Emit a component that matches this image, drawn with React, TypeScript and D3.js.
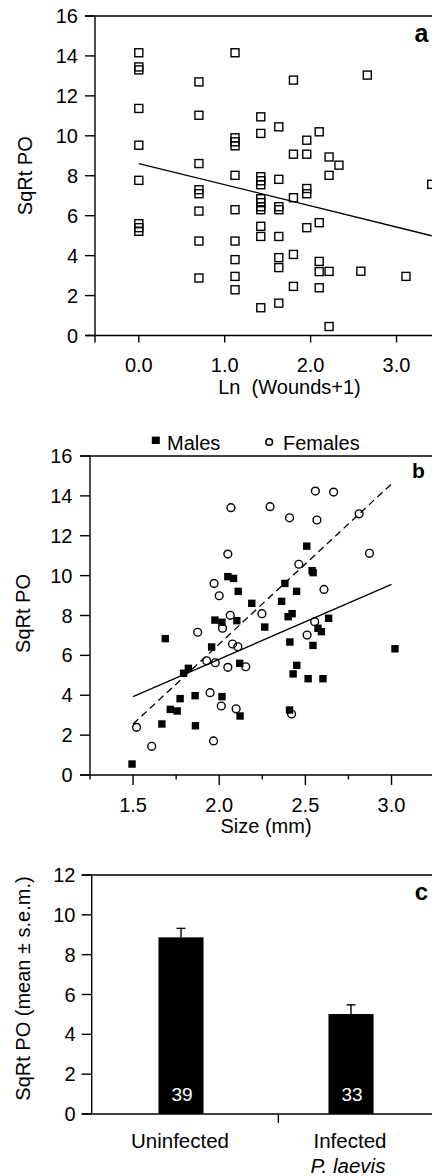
import React from 'react';
import * as d3 from 'd3';

const FONT = '"Liberation Sans", Arial, Helvetica, sans-serif';

// ---- panel a : PO vs Ln(wounds+1)
const lnWounds = [
  0, 0, 0, 0, 0, 0, 0, 0, 0,
  0.7, 0.7, 0.7, 0.7, 0.7, 0.7, 0.7, 0.7,
  1.12, 1.12, 1.12, 1.12, 1.12, 1.12, 1.12, 1.12, 1.12, 1.12,
  1.42, 1.42, 1.42, 1.42, 1.42, 1.42, 1.42, 1.42, 1.42, 1.42, 1.42, 1.42,
  1.63, 1.63, 1.63, 1.63, 1.63, 1.63, 1.63, 1.63,
  1.8, 1.8, 1.8, 1.8, 1.8,
  1.955, 1.955, 1.955, 1.955, 1.955,
  2.1, 2.1, 2.1, 2.1, 2.1,
  2.215, 2.215, 2.215, 2.215,
  2.33, 2.585, 2.66, 3.11, 3.41,
];
const poA = [
  14.16, 13.45, 13.3, 11.37, 9.53, 7.77, 5.6, 5.4, 5.22,
  12.7, 11.03, 8.61, 7.3, 7.1, 6.23, 4.73, 2.88,
  14.16, 9.9, 9.7, 9.5, 8.02, 6.3, 4.73, 3.8, 2.96, 2.29,
  10.95, 10.12, 7.95, 7.75, 7.55, 6.85, 6.65, 6.45, 6.3, 5.47, 4.96, 1.39,
  10.45, 7.82, 6.45, 6.3, 4.96, 3.9, 3.4, 1.62,
  12.79, 9.08, 6.9, 4.06, 2.46,
  9.78, 9.08, 7.36, 7.1, 5.4,
  10.2, 5.65, 3.71, 3.2, 2.39,
  8.94, 8.02, 3.21, 0.45,
  8.53, 3.22, 13.04, 2.96, 7.57,
];
const fitA = { intercept: 8.61, slope: -1.06, from: 0, to: 3.41 };
const lnTicks = [0, 1, 2, 3];
const poTicks16 = [0, 2, 4, 6, 8, 10, 12, 14, 16];

// ---- panel b : PO vs size, by sex
const maleSize = [
  1.687, 2.508, 2.539, 2.545, 2.381, 2.05, 2.083, 2.11, 2.189, 2.449,
  2.362, 2.423, 2.4, 1.975, 2.016, 2.102, 2.264, 2.635, 2.573, 2.593,
  2.41, 2.544, 1.956, 3.02, 2.119, 2.45, 1.821, 1.494, 1.667, 1.716,
  1.756, 1.773, 1.793, 1.86, 1.862, 2.016, 2.121, 2.429, 2.516, 2.602,
  2.408,
];
const malePO = [
  6.84, 11.48, 10.25, 10.15, 9.61, 9.95, 9.86, 9.21, 8.61, 9.21,
  8.71, 8.09, 7.94, 7.77, 7.66, 7.74, 7.42, 7.86, 7.36, 7.19,
  6.67, 6.5, 6.42, 6.33, 5.6, 5.5, 5.35, 0.55, 2.56, 3.29,
  3.21, 3.83, 5.1, 3.98, 2.47, 3.93, 2.96, 5.07, 4.83, 4.83,
  3.26,
];
const femaleSize = [
  2.068, 2.295, 2.408, 2.558, 2.664, 2.567, 2.812, 2.05, 2.872, 2.462,
  1.97, 2.0, 2.608, 2.064, 2.248, 1.875, 2.019, 2.554, 2.51, 2.077,
  2.108, 1.927, 1.977, 2.05, 2.154, 1.947, 2.012, 2.098, 2.42, 1.52,
  1.608, 1.967,
];
const femalePO = [
  13.41, 13.46, 12.9, 14.24, 14.19, 12.79, 13.1, 11.08, 11.12, 10.57,
  9.61, 8.99, 9.31, 8.01, 8.09, 7.16, 7.36, 7.69, 7.02, 6.57,
  6.43, 5.73, 5.63, 5.4, 5.43, 4.13, 3.46, 3.32, 3.06, 2.39,
  1.44, 1.71,
];
const fitMales = { intercept: -1.69, slope: 3.75, from: 1.5, to: 3.0 };
const fitFemales = { intercept: -9.49, slope: 8.03, from: 1.5, to: 3.0 };
const sizeTicks = [1.5, 2.0, 2.5, 3.0];
const sizeMinorTicks = [1.25, 1.75, 2.25, 2.75, 3.25];

// ---- panel c : PO by infection status
const groups = ['Uninfected', 'Infected'];
const groupSub = ['', 'P. laevis'];
const meanPO = [8.87, 5.02];
const semPO = [0.45, 0.46];
const nPO = [39, 33];
const poTicks12 = [0, 2, 4, 6, 8, 10, 12];

const SW = 1.4;

function YAxis({ scale, ticks, x, tickLen, labelX }) {
  return (
    <g>
      {ticks.map((t) => (
        <g key={t}>
          <line x1={x - tickLen} x2={x} y1={scale(t)} y2={scale(t)} stroke="#000" strokeWidth={SW} />
          <text x={labelX} y={scale(t)} dy="0.35em" textAnchor="end" fontSize={20}>
            {t}
          </text>
        </g>
      ))}
    </g>
  );
}

function line(fit, xs, ys) {
  const gen = d3.line<number>().x((v) => xs(v)).y((v) => ys(fit.intercept + fit.slope * v));
  return gen([fit.from, fit.to]) || '';
}

function PanelA() {
  const x = d3.scaleLinear().domain([-0.51, 3.6]).range([95, 95 + 4.11 * 85.9]);
  const y = d3.scaleLinear().domain([0, 16]).range([335.5, 16]);
  const x0 = x.range()[0];
  const y0 = y(0);
  return (
    <g>
      <line x1={85} x2={460} y1={y(16)} y2={y(16)} stroke="#000" strokeWidth={SW} />
      <line x1={x0} x2={x0} y1={y(16)} y2={y0 + 7} stroke="#000" strokeWidth={SW} />
      <line x1={85} x2={460} y1={y0} y2={y0} stroke="#000" strokeWidth={SW} />
      <YAxis scale={y} ticks={poTicks16} x={x0} tickLen={10} labelX={78} />
      {lnTicks.map((t) => (
        <g key={t}>
          <line x1={x(t)} x2={x(t)} y1={y0} y2={y0 + 7} stroke="#000" strokeWidth={SW} />
          <text x={x(t)} y={371.5} textAnchor="middle" fontSize={20}>
            {d3.format('.1f')(t)}
          </text>
        </g>
      ))}
      {lnWounds.map((v, i) => (
        <rect key={i} x={x(v) - 4} y={y(poA[i]) - 4} width={8} height={8} fill="none" stroke="#000" strokeWidth={SW} />
      ))}
      <path d={line(fitA, x, y)} fill="none" stroke="#000" strokeWidth={1.3} />
      <text x={421.5} y={41.5} textAnchor="middle" fontSize={25} fontWeight="bold">a</text>
      <text transform={`translate(31.5,${(y(0) + y(16)) / 2}) rotate(-90)`} textAnchor="middle" fontSize={20}>
        SqRt PO
      </text>
      <text x={289.5} y={394} textAnchor="middle" fontSize={20}>
        Ln{'\u00a0'} (Wounds+1)
      </text>
    </g>
  );
}

function PanelB() {
  const x = d3.scaleLinear().domain([1.25, 3.3]).range([90, 90 + 2.05 * 172.3]);
  const y = d3.scaleLinear().domain([0, 16]).range([775, 456]);
  const x0 = x(1.25);
  const y0 = y(0);
  return (
    <g>
      <line x1={80} x2={460} y1={y(16)} y2={y(16)} stroke="#000" strokeWidth={SW} />
      <line x1={x0} x2={x0} y1={y(16)} y2={y0} stroke="#000" strokeWidth={SW} />
      <line x1={80} x2={460} y1={y0} y2={y0} stroke="#000" strokeWidth={SW} />
      <YAxis scale={y} ticks={poTicks16} x={x0} tickLen={10} labelX={72.5} />
      {sizeMinorTicks.map((t) => (
        <line key={t} x1={x(t)} x2={x(t)} y1={y0} y2={y0 + 4.5} stroke="#000" strokeWidth={SW} />
      ))}
      {sizeTicks.map((t) => (
        <g key={t}>
          <line x1={x(t)} x2={x(t)} y1={y0} y2={y0 + 10} stroke="#000" strokeWidth={SW} />
          <text x={x(t)} y={811.5} textAnchor="middle" fontSize={20}>
            {d3.format('.1f')(t)}
          </text>
        </g>
      ))}
      {maleSize.map((v, i) => (
        <rect key={'m' + i} x={x(v) - 3.7} y={y(malePO[i]) - 3.7} width={7.4} height={7.4} fill="#000" />
      ))}
      {femaleSize.map((v, i) => (
        <circle key={'f' + i} cx={x(v)} cy={y(femalePO[i])} r={3.9} fill="none" stroke="#000" strokeWidth={SW} />
      ))}
      <path d={line(fitMales, x, y)} fill="none" stroke="#000" strokeWidth={1.3} />
      <path d={line(fitFemales, x, y)} fill="none" stroke="#000" strokeWidth={1.3} strokeDasharray="7,4.5" />
      {/* legend */}
      <rect x={151.8} y={436.6} width={8} height={7.4} fill="#000" />
      <text x={167} y={450} fontSize={20}>Males</text>
      <circle cx={269.2} cy={442} r={3.3} fill="none" stroke="#000" strokeWidth={1.6} />
      <text x={283} y={450} fontSize={20}>Females</text>
      <text x={418.5} y={478} textAnchor="middle" fontSize={21} fontWeight="bold">b</text>
      <text transform={`translate(30,${(y(0) + y(16)) / 2 - 2}) rotate(-90)`} textAnchor="middle" fontSize={20}>
        SqRt PO
      </text>
      <text x={266} y={832.5} textAnchor="middle" fontSize={20}>
        Size (mm)
      </text>
    </g>
  );
}

function PanelC() {
  const x = d3
    .scaleBand()
    .domain(groups)
    .range([91.7, 465])
    .paddingInner(0.735)
    .paddingOuter(0.4655)
    .align(0.422);
  const y = d3.scaleLinear().domain([0, 12]).range([1114, 875]);
  const [r0, r1] = x.range();
  const y0 = y(0);
  const bw = x.bandwidth();
  return (
    <g>
      <line x1={81.7} x2={460} y1={y(12)} y2={y(12)} stroke="#000" strokeWidth={SW} />
      <line x1={r0} x2={r0} y1={y(12)} y2={y0} stroke="#000" strokeWidth={SW} />
      <YAxis scale={y} ticks={poTicks12} x={r0} tickLen={10} labelX={75.5} />
      {groups.map((g, i) => {
        const cx = (x(g) || 0) + bw / 2;
        return (
          <g key={g}>
            <rect x={x(g)} y={y(meanPO[i])} width={bw} height={y0 - y(meanPO[i])} fill="#000" />
            <line x1={cx} x2={cx} y1={y(meanPO[i])} y2={y(meanPO[i] + semPO[i])} stroke="#000" strokeWidth={SW} />
            <line x1={cx - 4.5} x2={cx + 4.5} y1={y(meanPO[i] + semPO[i])} y2={y(meanPO[i] + semPO[i])} stroke="#000" strokeWidth={SW} />
            <text x={cx + 1} y={y0 - 13} textAnchor="middle" fontSize={19} fill="#fff">
              {nPO[i]}
            </text>
            <text x={cx - 1} y={1148} textAnchor="middle" fontSize={20.5}>
              {g}
            </text>
            {groupSub[i] && (
              <text x={cx - 3} y={1173} textAnchor="middle" fontSize={20.5} fontStyle="italic">
                {groupSub[i]}
              </text>
            )}
          </g>
        );
      })}
      <line x1={81.7} x2={460} y1={y0} y2={y0} stroke="#000" strokeWidth={SW} />
      <line x1={(r0 + r1) / 2} x2={(r0 + r1) / 2} y1={y0} y2={y0 + 9} stroke="#000" strokeWidth={SW} />
      <text x={421.5} y={900} textAnchor="middle" fontSize={24} fontWeight="bold">c</text>
      <text transform={`translate(30,${(y(0) + y(12)) / 2 - 6}) rotate(-90)`} textAnchor="middle" fontSize={20}>
        SqRt PO (mean ± s.e.m.)
      </text>
    </g>
  );
}

export default function App() {
  return (
    <svg
      width={432}
      height={1176}
      style={{ position: 'absolute', left: 0, top: 0, background: '#fff' }}
      fontFamily={FONT}
    >
      <rect width={432} height={1176} fill="#fff" />
      <PanelA />
      <PanelB />
      <PanelC />
    </svg>
  );
}
